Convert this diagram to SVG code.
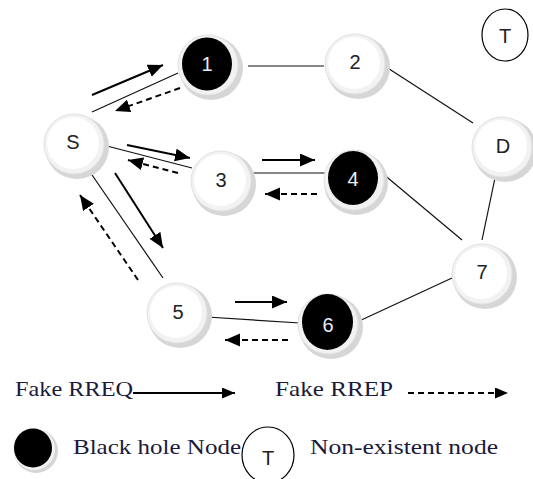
<svg xmlns="http://www.w3.org/2000/svg" width="533" height="479" viewBox="0 0 533 479">
<defs>
<marker id="ah" markerUnits="userSpaceOnUse" markerWidth="16" markerHeight="14" refX="15" refY="6.5" orient="auto">
<path d="M0,0 L15,6.5 L0,13 z" fill="#000"/>
</marker>
<marker id="ahs" markerUnits="userSpaceOnUse" markerWidth="14" markerHeight="12" refX="13" refY="5.5" orient="auto">
<path d="M0,0 L13,5.5 L0,11 z" fill="#000"/>
</marker>
</defs>
<style>
.sh{fill:#d6d6d6}
.ring{fill:#f2f2f2;stroke:#e2e2e2;stroke-width:1}
.wh{fill:#fff}
.bk{fill:#000}
.lbl{font-family:"Liberation Sans",Arial,sans-serif;font-size:20px;text-anchor:middle;fill:#222}
.lblw{font-family:"Liberation Sans",Arial,sans-serif;font-size:20px;text-anchor:middle;fill:#e8eef8}
.link{stroke:#111;stroke-width:1.2;fill:none}
.req{stroke:#000;stroke-width:2;fill:none;marker-end:url(#ah)}
.rep{stroke:#000;stroke-width:2;fill:none;stroke-dasharray:6 4;marker-end:url(#ah)}
.leg{font-family:"Liberation Serif","Times New Roman",serif;font-size:21px;fill:#1a1a3a}
</style>
<rect width="533" height="479" fill="#fff"/>
<g id="connectors">
<line class="link" x1="248" y1="66" x2="324" y2="66"/>
<line class="link" x1="383" y1="65" x2="473" y2="123"/>
<line class="link" x1="495" y1="178" x2="482" y2="240"/>
<line class="link" x1="382" y1="173" x2="462" y2="240"/>
<line class="link" x1="357" y1="322" x2="452" y2="278"/>
<line class="link" x1="207" y1="317" x2="300" y2="323"/>
<line class="link" x1="249" y1="173" x2="326" y2="173"/>
<line class="link" x1="103" y1="145" x2="192" y2="168"/>
<line class="link" x1="92" y1="112" x2="178" y2="73"/>
<line class="link" x1="90" y1="172" x2="163" y2="278"/>
<line class="req" x1="92" y1="95" x2="163" y2="65"/>
<line class="rep" x1="180" y1="88" x2="115" y2="111"/>
<line class="req" x1="127" y1="145" x2="190" y2="158"/>
<line class="rep" x1="178" y1="173" x2="128" y2="160"/>
<line class="req" x1="115" y1="173" x2="163" y2="248"/>
<line class="rep" x1="138" y1="280" x2="80" y2="195"/>
<line class="req" x1="262" y1="160" x2="315" y2="160"/>
<line class="rep" x1="317" y1="194" x2="265" y2="194"/>
<line class="req" x1="235" y1="302" x2="287" y2="302"/>
<line class="rep" x1="288" y1="340" x2="225" y2="340"/>
</g>
<g id="node-S">
<circle class="sh" cx="77" cy="147" r="32"/>
<circle class="ring" cx="74" cy="144" r="30"/>
<circle class="wh" cx="73" cy="143" r="26"/>
<text class="lbl" x="73" y="149">S</text>
</g>
<g id="node-1">
<circle class="sh" cx="211" cy="68" r="32"/>
<circle class="ring" cx="208" cy="65" r="30"/>
<ellipse class="bk" cx="207" cy="64" rx="25" ry="26.5"/>
<text class="lblw" x="207" y="71">1</text>
</g>
<g id="node-2">
<circle class="sh" cx="358" cy="67" r="32"/>
<circle class="ring" cx="355" cy="64" r="30"/>
<circle class="wh" cx="354" cy="63" r="26"/>
<text class="lbl" x="355" y="69">2</text>
</g>
<g id="node-3">
<circle class="sh" cx="224" cy="184" r="32"/>
<circle class="ring" cx="221" cy="181" r="30"/>
<circle class="wh" cx="220" cy="180" r="26"/>
<text class="lbl" x="221" y="187">3</text>
</g>
<g id="node-4">
<circle class="sh" cx="356" cy="183" r="32"/>
<circle class="ring" cx="354" cy="180" r="30"/>
<ellipse class="bk" cx="353" cy="178" rx="25" ry="27"/>
<text class="lblw" x="353" y="186">4</text>
</g>
<g id="node-D">
<circle class="sh" cx="505" cy="150" r="32"/>
<circle class="ring" cx="502" cy="147" r="30"/>
<circle class="wh" cx="501" cy="146" r="26"/>
<text class="lbl" x="503" y="153">D</text>
</g>
<g id="node-7">
<circle class="sh" cx="485" cy="277" r="32"/>
<circle class="ring" cx="482" cy="274" r="30"/>
<circle class="wh" cx="481" cy="273" r="26"/>
<text class="lbl" x="482" y="279">7</text>
</g>
<g id="node-5">
<circle class="sh" cx="180" cy="316" r="32"/>
<circle class="ring" cx="177" cy="313" r="30"/>
<circle class="wh" cx="176" cy="312" r="26"/>
<text class="lbl" x="178" y="319">5</text>
</g>
<g id="node-6">
<circle class="sh" cx="331" cy="327" r="32"/>
<circle class="ring" cx="328" cy="324" r="30"/>
<ellipse class="bk" cx="327.5" cy="322" rx="25.5" ry="28"/>
<text class="lblw" x="328" y="332">6</text>
</g>
<g id="node-T">
<ellipse cx="505" cy="35" rx="23" ry="26" fill="#fff" stroke="#000" stroke-width="1.2"/>
<text class="lbl" x="505" y="43">T</text>
</g>
<g id="legend">
<text class="leg" x="15" y="396" textLength="118" lengthAdjust="spacingAndGlyphs">Fake RREQ</text>
<line x1="133" y1="393" x2="235" y2="393" stroke="#000" stroke-width="1.8" marker-end="url(#ahs)"/>
<text class="leg" x="275" y="396" textLength="118" lengthAdjust="spacingAndGlyphs">Fake RREP</text>
<line x1="408" y1="393" x2="508" y2="393" stroke="#000" stroke-width="1.8" stroke-dasharray="6 4" marker-end="url(#ahs)"/>
<circle cx="36" cy="451" r="22" fill="#d6d6d6"/>
<circle cx="34" cy="449" r="21" fill="#f2f2f2"/>
<ellipse cx="33" cy="448" rx="19" ry="19.5" fill="#000"/>
<text class="leg" x="73" y="454" textLength="168" lengthAdjust="spacingAndGlyphs">Black hole Node</text>
<ellipse cx="268" cy="455" rx="26" ry="28" fill="#fff" stroke="#000" stroke-width="1.2"/>
<text class="lbl" x="268" y="465">T</text>
<text class="leg" x="310" y="454" textLength="188" lengthAdjust="spacingAndGlyphs">Non-existent node</text>
</g>
</svg>
